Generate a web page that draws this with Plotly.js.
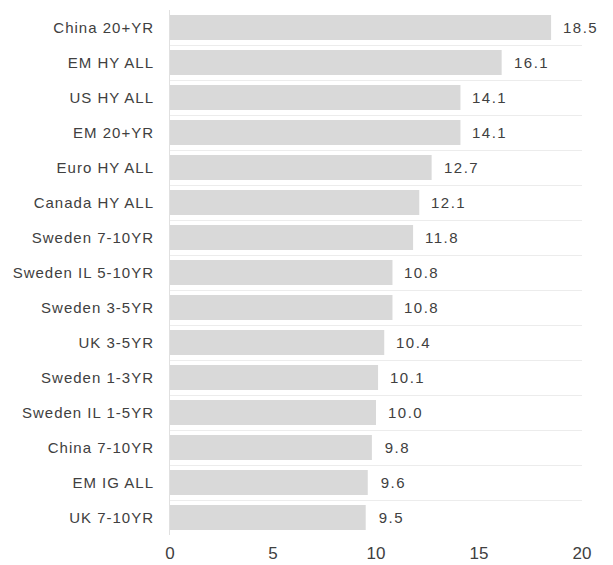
<!DOCTYPE html>
<html>
<head>
<meta charset="utf-8">
<script src="https://cdn.plot.ly/plotly-3.0.1.min.js"></script>
<style>
html,body{margin:0;padding:0;background:#fff;}
#chart{width:613px;height:565px;}
#chart g.ytick text{letter-spacing:1px;}
#chart g.annotation text{letter-spacing:1.5px;}
</style>
</head>
<body>
<div id="chart"></div>
<script>
const categories = ["China 20+YR","EM HY ALL","US HY ALL","EM 20+YR","Euro HY ALL","Canada HY ALL","Sweden 7-10YR","Sweden IL 5-10YR","Sweden 3-5YR","UK 3-5YR","Sweden 1-3YR","Sweden IL 1-5YR","China 7-10YR","EM IG ALL","UK 7-10YR"];
const values = [18.5,16.1,14.1,14.1,12.7,12.1,11.8,10.8,10.8,10.4,10.1,10.0,9.8,9.6,9.5];
const xTicks = [0,5,10,15,20];

const trace = {
  type: "bar",
  orientation: "h",
  x: values,
  y: categories,
  marker: {color: "#d9d9d9"},
  hoverinfo: "skip"
};

const annotations = values.map((v, i) => ({
  x: v, y: categories[i], xref: "x", yref: "y",
  text: v.toFixed(1), showarrow: false,
  xanchor: "left", xshift: 13, yshift: 0,
  font: {family: "Liberation Sans, Arial, sans-serif", size: 15, color: "#404040"}
}));

const layout = {
  width: 613, height: 565,
  margin: {l: 170, r: 31, t: 10, b: 30, pad: 0},
  paper_bgcolor: "#ffffff", plot_bgcolor: "#ffffff",
  showlegend: false,
  bargap: 0.28,
  font: {family: "Liberation Sans, Arial, sans-serif", color: "#404040"},
  xaxis: {
    range: [0, 20],
    tickvals: xTicks,
    ticktext: xTicks.map(String),
    showgrid: false, zeroline: false, showline: false,
    ticks: "", ticklen: 0,
    ticklabelstandoff: 6,
    tickfont: {size: 17, color: "#404040"},
    fixedrange: true
  },
  yaxis: {
    type: "category",
    categoryorder: "array",
    categoryarray: categories.slice().reverse(),
    autorange: false,
    range: [-0.5, 14.5],
    tickson: "boundaries",
    showgrid: true, gridcolor: "#ececec", gridwidth: 1,
    showline: true, linecolor: "#e0e0e0", linewidth: 1,
    zeroline: false,
    ticks: "", ticklabelstandoff: 12,
    tickfont: {size: 15, color: "#404040"},
    fixedrange: true
  },
  annotations: annotations
};

Plotly.newPlot("chart", [trace], layout, {displayModeBar: false, staticPlot: true});
</script>
</body>
</html>
